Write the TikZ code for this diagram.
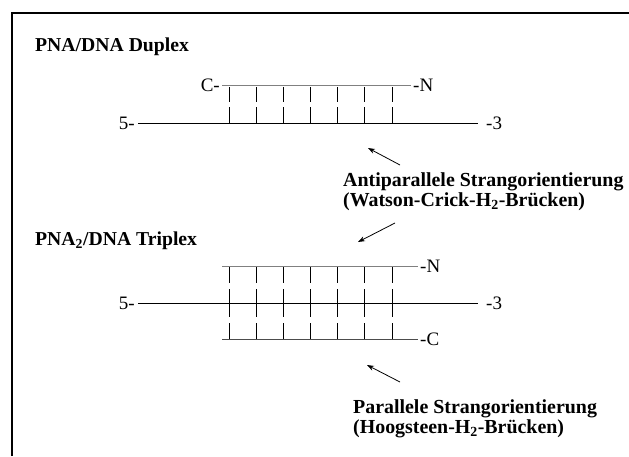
\documentclass[tikz,border=0pt]{standalone}
\usepackage{fontspec}
\setmainfont{Liberation Serif}
\usetikzlibrary{arrows.meta}
\begin{document}
\begin{tikzpicture}[x=1pt,y=-1pt,
  lbl/.style={font=\fontsize{19}{21}\selectfont, inner sep=0pt},
  ttl/.style={font=\fontsize{19.7}{21}\selectfont\bfseries, inner sep=0pt, anchor=base west},
  captxt/.style={font=\fontsize{19.9}{19.6}\selectfont\bfseries, inner sep=0pt, anchor=base west, align=left},
  pna/.style={line width=1pt, draw=black!50},
  dna/.style={line width=1pt, draw=black},
  rung/.style={line width=0.9pt, draw=black},
  arr/.style={line width=0.8pt, draw=black, -{Stealth[length=7pt,width=5pt]}}
]
\useasboundingbox (0,0) rectangle (629,456);
\draw[line width=1.5pt] (12,456) -- (12,13) -- (629,13);

% ---------- Duplex ----------
\node[ttl] (t1) at (35,51) {PNA/DNA Duplex};
\coordinate (d1a) at (222,85);  \coordinate (d1b) at (411,85);
\coordinate (d2a) at (138,123); \coordinate (d2b) at (478,123);
\draw[pna] (d1a) -- (d1b);
\draw[dna] (d2a) -- (d2b);
\node[lbl, anchor=base east] (dC) at (220,91) {C-};
\node[lbl, anchor=base west] (dN) at (413,91) {-N};
\node[lbl, anchor=base east] (d5) at (135,129) {5-};
\node[lbl, anchor=base west] (d3) at (486,129) {-3};
\foreach \x in {229,256,283,310,337,364,392}{
  \draw[rung] (\x,87) -- (\x,102);
  \draw[rung] (\x,107) -- (\x,123);
}

% arrows and caption 1
\coordinate (a1s) at (400,165); \coordinate (a1e) at (368,148);
\draw[arr] (a1s) -- (a1e);
\node[captxt] (c1) at (343,206.5) {Antiparallele Strangorientierung\\(Watson-Crick-H\textsubscript{2}-Brücken)};
\coordinate (a2s) at (395,223); \coordinate (a2e) at (358,242);
\draw[arr] (a2s) -- (a2e);

% ---------- Triplex ----------
\node[ttl] (t2) at (35,245) {PNA\textsubscript{2}/DNA Triplex};
\coordinate (p1a) at (222,266); \coordinate (p1b) at (418,266);
\coordinate (p2a) at (138,303); \coordinate (p2b) at (478,303);
\coordinate (p3a) at (222,339); \coordinate (p3b) at (418,339);
\draw[pna] (p1a) -- (p1b);
\draw[dna] (p2a) -- (p2b);
\draw[pna, draw=black!70] (p3a) -- (p3b);
\node[lbl, anchor=base west] (tN) at (420,272) {-N};
\node[lbl, anchor=base east] (t5) at (135,309) {5-};
\node[lbl, anchor=base west] (t3) at (486,309) {-3};
\node[lbl, anchor=base west] (tC) at (420,345) {-C};
\foreach \x in {229,256,283,310,337,364,392}{
  \draw[rung] (\x,267) -- (\x,283);
  \draw[rung] (\x,289) -- (\x,317);
  \draw[rung] (\x,323) -- (\x,339);
}

% arrow and caption 2
\coordinate (a3s) at (400,382); \coordinate (a3e) at (367,365);
\draw[arr] (a3s) -- (a3e);
\node[captxt] (c2) at (353,433) {Parallele Strangorientierung\\(Hoogsteen-H\textsubscript{2}-Brücken)};
\end{tikzpicture}
\end{document}
